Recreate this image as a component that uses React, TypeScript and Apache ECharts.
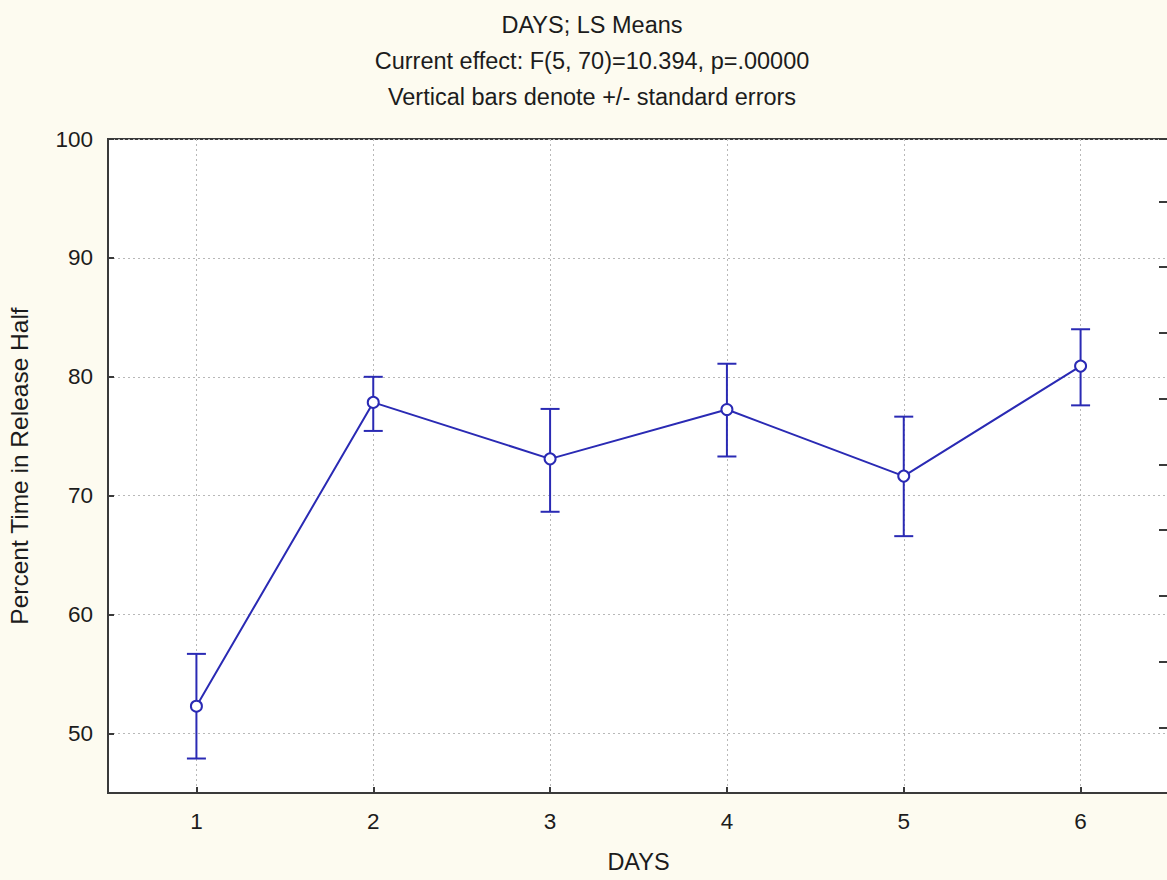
import React, { useEffect, useRef } from "react";
import * as echarts from "echarts";

const days = [1, 2, 3, 4, 5, 6];
const means = [52.3, 77.85, 73.1, 77.25, 71.65, 80.9];
const upperSE = [56.7, 80.0, 77.3, 81.1, 76.65, 84.0];
const lowerSE = [47.9, 75.45, 68.65, 73.3, 66.6, 77.6];

const titleLines = [
  "DAYS; LS Means",
  "Current effect: F(5, 70)=10.394, p=.00000",
  "Vertical bars denote +/- standard errors",
];
const xName = "DAYS";
const yName = "Percent Time in Release Half";

const FONT = "'Liberation Sans', Arial, sans-serif";
const TEXT = "#1c1c1c";
const BLUE = "#2a2ab4";
const AXIS = "#3a3a3a";
const GRIDC = "#b8b8b8";
const BG = "#fdfbf0";

export default function App() {
  const ref = useRef<HTMLDivElement>(null);
  useEffect(() => {
    if (!ref.current) return;
    const chart = echarts.init(ref.current, undefined, { renderer: "svg" });
    const linePts = days.map((d, i) => [d, means[i]]);
    const errPts = days.map((d, i) => [d, lowerSE[i], upperSE[i]]);
    const option: any = {
      animation: false,
      backgroundColor: BG,
      textStyle: { fontFamily: FONT, color: TEXT },
      graphic: titleLines.map((t, i) => ({
        type: "text",
        x: 592,
        y: 25 + i * 36,
        style: {
          text: t,
          align: "center",
          verticalAlign: "middle",
          fontFamily: FONT,
          fontSize: 23.5,
          fill: TEXT,
        },
      })),
      grid: {
        left: 108,
        width: 1061,
        top: 139,
        height: 654,
        containLabel: false,
        outerBoundsMode: "none",
        show: true,
        backgroundColor: "#ffffff",
        borderColor: AXIS,
        borderWidth: 2,
      },
      xAxis: {
        type: "value",
        min: 0.5,
        max: 6.5,
        splitNumber: 6,
        name: xName,
        nameLocation: "middle",
        nameGap: 57,
        nameTextStyle: { fontFamily: FONT, fontSize: 23.5, color: TEXT },
        axisLine: { show: true, lineStyle: { color: AXIS, width: 2 } },
        axisTick: { show: true, inside: true, length: 6, lineStyle: { color: AXIS, width: 2 } },
        axisLabel: {
          margin: 17,
          fontFamily: FONT,
          fontSize: 22.5,
          color: TEXT,
          formatter: (v: number) => (Number.isInteger(v) ? String(v) : ""),
        },
        splitLine: { show: true, lineStyle: { color: GRIDC, type: [2, 3], width: 1 } },
      },
      yAxis: [
        {
          type: "value",
          min: 45,
          max: 100,
          splitNumber: 5,
          name: yName,
          nameLocation: "middle",
          nameGap: 76,
          nameTextStyle: { fontFamily: FONT, fontSize: 24.5, color: TEXT },
          axisLine: { show: true, lineStyle: { color: AXIS, width: 2 } },
          axisTick: { show: true, inside: true, length: 6, lineStyle: { color: AXIS, width: 2 } },
          axisLabel: {
            margin: 15,
            fontFamily: FONT,
            fontSize: 22.5,
            color: TEXT,
            formatter: (v: number) => (v % 10 === 0 ? String(v) : ""),
          },
          splitLine: { show: true, lineStyle: { color: GRIDC, type: [2, 3], width: 1 } },
        },
        {
          type: "value",
          position: "right",
          min: 0,
          max: 9.95,
          interval: 1,
          axisLine: { show: false },
          axisTick: { show: true, inside: true, length: 10, lineStyle: { color: AXIS, width: 2 } },
          axisLabel: { show: false },
          splitLine: { show: false },
        },
      ],
      series: [
        {
          type: "custom",
          name: "SE",
          data: errPts,
          z: 3,
          renderItem: (params: any, api: any) => {
            const x = api.value(0);
            const lo = api.coord([x, api.value(1)]);
            const hi = api.coord([x, api.value(2)]);
            const hw = 9.5;
            const style = { stroke: BLUE, lineWidth: 2 };
            return {
              type: "group",
              children: [
                { type: "line", shape: { x1: lo[0], y1: lo[1], x2: hi[0], y2: hi[1] }, style },
                { type: "line", shape: { x1: lo[0] - hw, y1: lo[1], x2: lo[0] + hw, y2: lo[1] }, style },
                { type: "line", shape: { x1: hi[0] - hw, y1: hi[1], x2: hi[0] + hw, y2: hi[1] }, style },
              ],
            };
          },
        },
        {
          type: "line",
          name: "LS Means",
          data: linePts,
          z: 4,
          symbol: "circle",
          symbolSize: 11,
          lineStyle: { color: BLUE, width: 2 },
          itemStyle: { color: "#ffffff", borderColor: BLUE, borderWidth: 2 },
        },
      ],
    };
    chart.setOption(option);
    return () => chart.dispose();
  }, []);
  return (
    <div
      ref={ref}
      style={{ position: "fixed", left: 0, top: 0, width: 1167, height: 880 }}
    />
  );
}
